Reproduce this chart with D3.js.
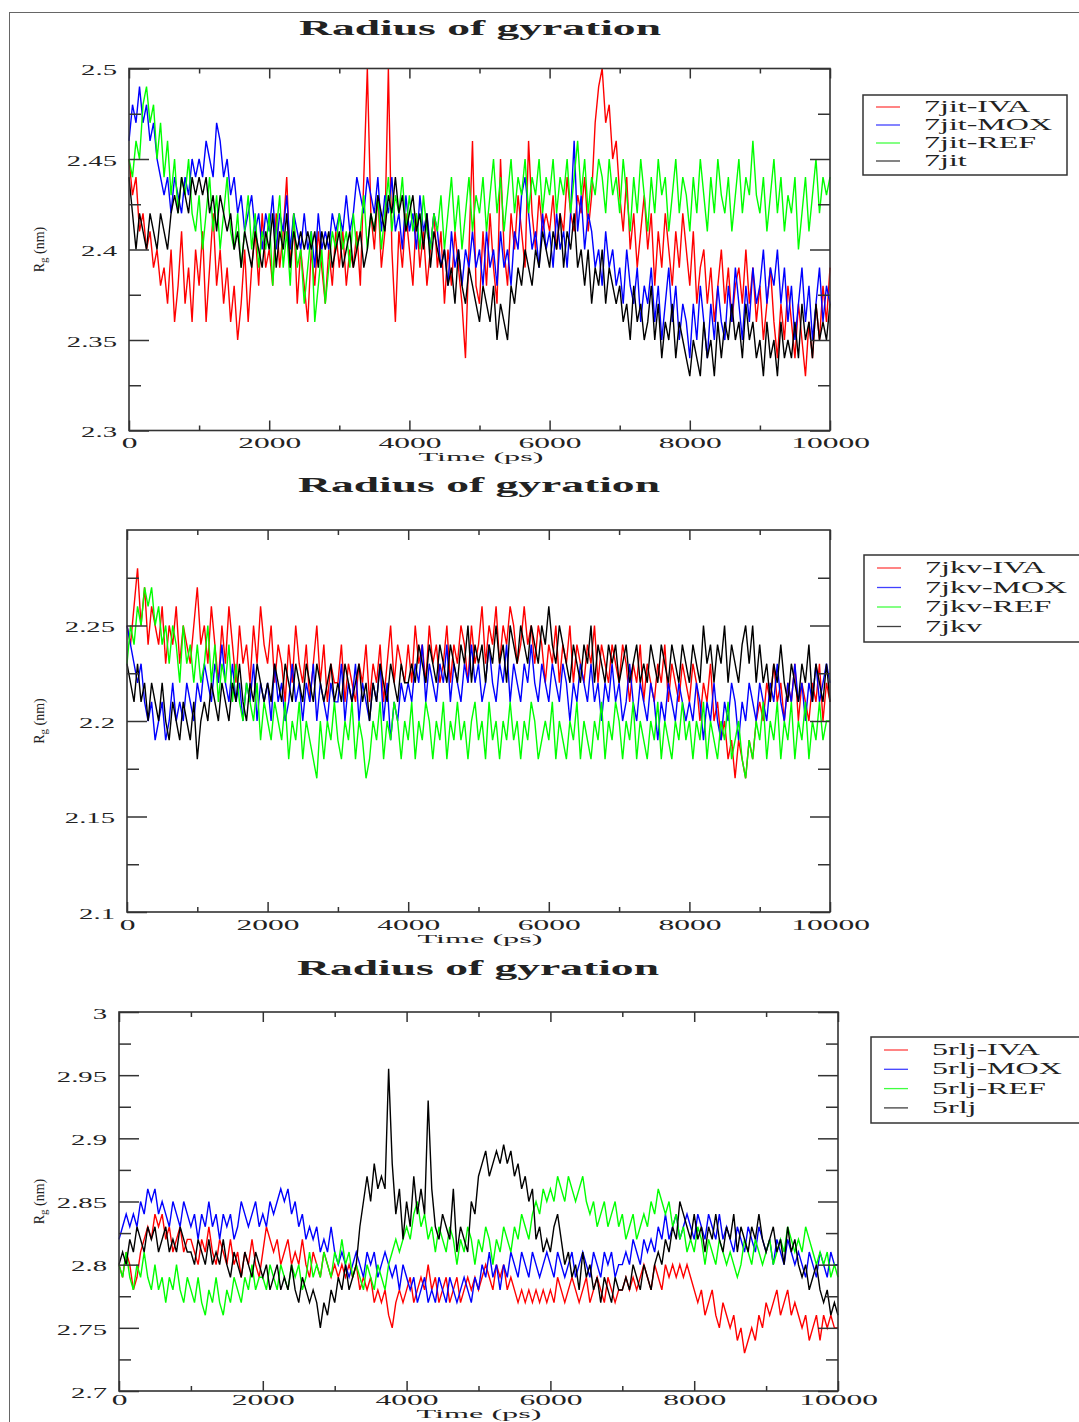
<!DOCTYPE html>
<html lang="en">
<head>
<meta charset="UTF-8">
<style>
    html, body { margin:0; padding:0; background:#fff; overflow:hidden; }
    svg { display:block; }
    text { font-family: "Liberation Serif", "DejaVu Serif", serif; fill:#222; }
</style>
<script src="https://d3js.org/d3.v7.min.js"></script>
</head>
<body>
<svg width="1079" height="1422"></svg>
<script>
// ---- data (one value every 50 ps) ----
var stepPs = 50;
var xTickValues = [0, 2000, 4000, 6000, 8000, 10000];
var xTickLabels = ["0", "2000", "4000", "6000", "8000", "10000"];
var xMinorTicks = [1000, 3000, 5000, 7000, 9000];

var jitNames = ["7jit-IVA", "7jit-MOX", "7jit-REF", "7jit"];
var jkvNames = ["7jkv-IVA", "7jkv-MOX", "7jkv-REF", "7jkv"];
var rljNames = ["5rlj-IVA", "5rlj-MOX", "5rlj-REF", "5rlj"];

var jitYTicks = [2.5, 2.45, 2.4, 2.35, 2.3];
var jitYLabels = ["2.5", "2.45", "2.4", "2.35", "2.3"];
var jkvYTicks = [2.25, 2.2, 2.15, 2.1];
var jkvYLabels = ["2.25", "2.2", "2.15", "2.1"];
var rljYTicks = [3, 2.95, 2.9, 2.85, 2.8, 2.75, 2.7];
var rljYLabels = ["3", "2.95", "2.9", "2.85", "2.8", "2.75", "2.7"];

var jitIVA = [
    2.45,2.43,2.44,2.41,2.42,2.40,2.41,2.39,2.40,2.38,2.39,2.37,2.40,2.36,2.38,2.41,2.37,2.39,2.36,2.40,
    2.38,2.41,2.36,2.39,2.42,2.38,2.40,2.37,2.39,2.36,2.38,2.35,2.37,2.40,2.36,2.39,2.41,2.38,2.42,2.39,
    2.40,2.38,2.42,2.39,2.41,2.44,2.39,2.42,2.37,2.40,2.38,2.36,2.40,2.38,2.41,2.39,2.37,2.40,2.38,2.41,
    2.39,2.41,2.38,2.40,2.39,2.41,2.38,2.44,2.50,2.42,2.40,2.43,2.39,2.41,2.50,2.40,2.36,2.41,2.39,2.42,
    2.40,2.38,2.42,2.39,2.41,2.38,2.40,2.42,2.39,2.41,2.37,2.40,2.38,2.41,2.39,2.37,2.34,2.40,2.46,2.38,
    2.37,2.41,2.38,2.42,2.39,2.37,2.45,2.40,2.38,2.42,2.40,2.43,2.41,2.39,2.46,2.42,2.40,2.43,2.41,2.42,
    2.41,2.43,2.40,2.42,2.41,2.44,2.42,2.41,2.43,2.42,2.44,2.41,2.43,2.47,2.49,2.50,2.47,2.48,2.45,2.46,
    2.43,2.41,2.44,2.40,2.42,2.39,2.41,2.43,2.40,2.42,2.38,2.41,2.39,2.42,2.40,2.38,2.41,2.39,2.42,2.40,
    2.38,2.41,2.37,2.39,2.40,2.37,2.39,2.36,2.38,2.40,2.37,2.39,2.36,2.38,2.39,2.37,2.40,2.37,2.39,2.36,
    2.38,2.35,2.37,2.39,2.36,2.34,2.37,2.35,2.38,2.36,2.34,2.37,2.35,2.33,2.36,2.34,2.37,2.35,2.38,2.36,
    2.39];
var jitMOX = [
    2.46,2.48,2.47,2.49,2.47,2.48,2.46,2.47,2.45,2.44,2.43,2.44,2.42,2.44,2.43,2.42,2.44,2.43,2.45,2.44,
    2.45,2.44,2.46,2.45,2.44,2.47,2.46,2.44,2.45,2.43,2.44,2.42,2.43,2.41,2.42,2.43,2.41,2.42,2.40,2.42,
    2.41,2.43,2.40,2.42,2.41,2.43,2.40,2.42,2.41,2.40,2.42,2.40,2.41,2.39,2.42,2.40,2.41,2.40,2.42,2.41,
    2.42,2.41,2.43,2.41,2.42,2.44,2.43,2.42,2.44,2.43,2.42,2.44,2.41,2.43,2.42,2.44,2.41,2.42,2.40,2.43,
    2.41,2.42,2.40,2.43,2.41,2.42,2.40,2.42,2.41,2.39,2.40,2.38,2.41,2.39,2.40,2.38,2.40,2.39,2.41,2.39,
    2.40,2.38,2.41,2.39,2.40,2.38,2.41,2.39,2.40,2.38,2.41,2.40,2.43,2.44,2.42,2.40,2.41,2.39,2.42,2.40,
    2.41,2.39,2.42,2.40,2.41,2.39,2.42,2.46,2.41,2.43,2.40,2.42,2.41,2.39,2.40,2.38,2.41,2.39,2.40,2.38,
    2.39,2.37,2.40,2.38,2.37,2.39,2.36,2.38,2.37,2.39,2.36,2.38,2.35,2.37,2.39,2.36,2.38,2.35,2.37,2.36,
    2.34,2.37,2.35,2.38,2.36,2.34,2.37,2.35,2.38,2.36,2.35,2.38,2.36,2.39,2.37,2.35,2.38,2.36,2.39,2.37,
    2.38,2.40,2.37,2.39,2.38,2.40,2.37,2.39,2.36,2.38,2.35,2.37,2.39,2.36,2.38,2.35,2.37,2.39,2.36,2.38,
    2.37];
var jitREF = [
    2.45,2.44,2.46,2.45,2.48,2.49,2.47,2.48,2.45,2.47,2.44,2.46,2.43,2.45,2.42,2.44,2.43,2.45,2.42,2.41,
    2.43,2.40,2.42,2.44,2.41,2.43,2.40,2.42,2.44,2.41,2.40,2.42,2.39,2.41,2.43,2.40,2.42,2.39,2.41,2.40,
    2.42,2.38,2.41,2.43,2.39,2.41,2.38,2.42,2.39,2.40,2.37,2.39,2.41,2.36,2.38,2.40,2.37,2.39,2.41,2.40,
    2.42,2.40,2.41,2.39,2.42,2.40,2.41,2.43,2.40,2.42,2.41,2.43,2.40,2.42,2.44,2.41,2.43,2.42,2.44,2.41,
    2.43,2.41,2.42,2.40,2.43,2.41,2.40,2.42,2.41,2.43,2.40,2.42,2.44,2.41,2.43,2.40,2.42,2.44,2.41,2.43,
    2.42,2.44,2.41,2.43,2.45,2.42,2.44,2.41,2.43,2.45,2.42,2.44,2.43,2.45,2.42,2.44,2.43,2.45,2.42,2.44,
    2.43,2.45,2.42,2.44,2.43,2.45,2.42,2.44,2.46,2.43,2.45,2.42,2.44,2.43,2.45,2.44,2.42,2.45,2.43,2.44,
    2.42,2.45,2.43,2.41,2.44,2.42,2.45,2.43,2.41,2.44,2.42,2.45,2.43,2.44,2.41,2.43,2.45,2.42,2.44,2.43,
    2.41,2.44,2.42,2.45,2.43,2.41,2.44,2.42,2.45,2.43,2.42,2.44,2.41,2.43,2.45,2.42,2.44,2.43,2.46,2.43,
    2.42,2.44,2.41,2.43,2.45,2.42,2.44,2.41,2.43,2.42,2.44,2.40,2.42,2.44,2.41,2.43,2.45,2.42,2.44,2.43,
    2.44];
var jitApo = [
    2.44,2.42,2.40,2.42,2.41,2.40,2.42,2.41,2.40,2.42,2.41,2.40,2.42,2.43,2.42,2.44,2.43,2.42,2.44,2.43,
    2.44,2.43,2.44,2.42,2.43,2.41,2.43,2.42,2.41,2.42,2.40,2.41,2.39,2.41,2.40,2.39,2.41,2.40,2.39,2.41,
    2.40,2.42,2.39,2.41,2.40,2.42,2.39,2.41,2.40,2.41,2.40,2.41,2.40,2.41,2.39,2.41,2.40,2.41,2.39,2.40,
    2.41,2.39,2.40,2.41,2.39,2.40,2.41,2.39,2.40,2.42,2.41,2.43,2.42,2.41,2.43,2.42,2.44,2.42,2.43,2.41,
    2.42,2.43,2.41,2.42,2.40,2.42,2.39,2.41,2.40,2.39,2.40,2.38,2.39,2.37,2.40,2.38,2.37,2.39,2.38,2.37,
    2.36,2.38,2.37,2.36,2.38,2.35,2.37,2.36,2.35,2.38,2.37,2.39,2.38,2.40,2.39,2.38,2.40,2.39,2.41,2.40,
    2.39,2.41,2.40,2.42,2.39,2.41,2.40,2.42,2.39,2.40,2.38,2.40,2.37,2.39,2.38,2.40,2.37,2.39,2.38,2.37,
    2.38,2.36,2.37,2.35,2.38,2.36,2.37,2.35,2.36,2.38,2.35,2.37,2.34,2.36,2.35,2.37,2.34,2.36,2.35,2.34,
    2.33,2.35,2.34,2.33,2.36,2.34,2.35,2.33,2.36,2.34,2.36,2.35,2.37,2.35,2.36,2.34,2.37,2.35,2.36,2.34,
    2.35,2.33,2.36,2.34,2.35,2.33,2.36,2.34,2.35,2.34,2.36,2.34,2.37,2.35,2.36,2.34,2.37,2.35,2.36,2.35,
    2.37];

var jkvIVA = [
    2.25,2.24,2.26,2.28,2.25,2.27,2.24,2.26,2.25,2.24,2.26,2.23,2.25,2.24,2.26,2.23,2.25,2.24,2.23,2.25,
    2.27,2.24,2.25,2.23,2.26,2.24,2.22,2.25,2.23,2.26,2.24,2.22,2.25,2.23,2.24,2.22,2.25,2.23,2.26,2.24,
    2.23,2.25,2.22,2.24,2.23,2.21,2.24,2.22,2.25,2.23,2.22,2.24,2.21,2.23,2.25,2.22,2.24,2.21,2.23,2.22,
    2.22,2.24,2.21,2.23,2.22,2.21,2.23,2.22,2.24,2.21,2.23,2.22,2.24,2.21,2.23,2.25,2.22,2.24,2.23,2.22,
    2.24,2.22,2.25,2.23,2.24,2.22,2.25,2.23,2.24,2.22,2.23,2.25,2.22,2.24,2.23,2.25,2.24,2.22,2.25,2.23,
    2.24,2.26,2.23,2.25,2.24,2.26,2.23,2.25,2.24,2.26,2.25,2.23,2.24,2.26,2.24,2.25,2.23,2.25,2.24,2.22,
    2.24,2.23,2.25,2.22,2.24,2.23,2.25,2.22,2.24,2.23,2.22,2.24,2.23,2.25,2.22,2.24,2.23,2.22,2.24,2.23,
    2.22,2.24,2.23,2.21,2.23,2.22,2.24,2.21,2.23,2.22,2.21,2.23,2.22,2.24,2.21,2.23,2.22,2.21,2.23,2.22,
    2.21,2.23,2.22,2.20,2.22,2.21,2.23,2.20,2.21,2.19,2.20,2.18,2.19,2.17,2.19,2.18,2.17,2.19,2.18,2.20,
    2.21,2.20,2.22,2.21,2.23,2.21,2.22,2.20,2.22,2.21,2.23,2.20,2.22,2.21,2.20,2.22,2.21,2.23,2.20,2.22,
    2.21];
var jkvMOX = [
    2.25,2.24,2.23,2.22,2.23,2.21,2.20,2.21,2.19,2.20,2.21,2.19,2.20,2.22,2.20,2.21,2.20,2.22,2.21,2.20,
    2.22,2.21,2.23,2.22,2.21,2.23,2.22,2.24,2.22,2.21,2.23,2.21,2.22,2.20,2.22,2.21,2.23,2.20,2.22,2.21,
    2.22,2.20,2.23,2.21,2.22,2.20,2.21,2.23,2.21,2.22,2.20,2.22,2.21,2.23,2.20,2.22,2.21,2.20,2.22,2.21,
    2.21,2.23,2.20,2.22,2.21,2.23,2.20,2.22,2.21,2.20,2.22,2.21,2.23,2.20,2.22,2.19,2.21,2.20,2.22,2.21,
    2.22,2.21,2.23,2.22,2.24,2.21,2.23,2.22,2.21,2.23,2.22,2.24,2.21,2.23,2.22,2.21,2.23,2.22,2.24,2.22,
    2.23,2.21,2.22,2.24,2.22,2.21,2.23,2.22,2.24,2.21,2.23,2.22,2.21,2.23,2.22,2.24,2.22,2.21,2.23,2.22,
    2.21,2.23,2.22,2.21,2.23,2.22,2.20,2.22,2.21,2.23,2.22,2.21,2.23,2.21,2.22,2.20,2.22,2.21,2.23,2.21,
    2.22,2.20,2.21,2.23,2.21,2.20,2.22,2.21,2.20,2.22,2.21,2.19,2.21,2.20,2.22,2.21,2.20,2.22,2.21,2.20,
    2.21,2.20,2.22,2.21,2.19,2.21,2.20,2.22,2.20,2.19,2.21,2.20,2.22,2.21,2.19,2.21,2.20,2.22,2.21,2.20,
    2.22,2.21,2.20,2.22,2.21,2.23,2.21,2.20,2.22,2.21,2.23,2.21,2.22,2.20,2.22,2.21,2.23,2.21,2.22,2.23,
    2.22];
var jkvREF = [
    2.23,2.25,2.24,2.26,2.25,2.27,2.26,2.27,2.25,2.26,2.24,2.25,2.23,2.25,2.24,2.22,2.25,2.23,2.24,2.22,
    2.24,2.22,2.23,2.25,2.22,2.24,2.21,2.23,2.22,2.24,2.21,2.23,2.21,2.20,2.22,2.21,2.20,2.22,2.19,2.21,
    2.20,2.19,2.21,2.20,2.19,2.21,2.18,2.20,2.19,2.21,2.18,2.20,2.19,2.18,2.17,2.20,2.18,2.20,2.19,2.21,
    2.19,2.18,2.20,2.19,2.21,2.18,2.20,2.19,2.17,2.18,2.20,2.19,2.21,2.18,2.20,2.19,2.21,2.20,2.18,2.20,
    2.19,2.21,2.18,2.20,2.19,2.21,2.20,2.18,2.20,2.19,2.21,2.18,2.20,2.19,2.21,2.19,2.20,2.18,2.20,2.21,
    2.19,2.20,2.18,2.21,2.19,2.20,2.18,2.20,2.19,2.21,2.19,2.20,2.18,2.20,2.19,2.21,2.20,2.18,2.19,2.20,
    2.19,2.21,2.18,2.20,2.19,2.18,2.20,2.19,2.21,2.18,2.20,2.19,2.18,2.20,2.19,2.21,2.18,2.20,2.19,2.21,
    2.20,2.18,2.20,2.19,2.21,2.18,2.20,2.19,2.18,2.20,2.19,2.21,2.18,2.20,2.19,2.18,2.20,2.19,2.21,2.19,
    2.20,2.18,2.20,2.19,2.21,2.18,2.20,2.19,2.18,2.20,2.19,2.21,2.18,2.19,2.20,2.18,2.17,2.19,2.18,2.20,
    2.19,2.21,2.18,2.20,2.19,2.21,2.18,2.20,2.19,2.21,2.18,2.20,2.19,2.21,2.18,2.20,2.19,2.21,2.19,2.20,
    2.20];
var jkvApo = [
    2.23,2.22,2.21,2.23,2.21,2.22,2.20,2.22,2.21,2.20,2.22,2.20,2.19,2.21,2.20,2.19,2.21,2.20,2.19,2.21,
    2.18,2.20,2.21,2.20,2.22,2.21,2.20,2.22,2.21,2.20,2.22,2.21,2.23,2.21,2.20,2.22,2.21,2.23,2.22,2.21,
    2.22,2.21,2.23,2.22,2.21,2.23,2.22,2.21,2.23,2.22,2.21,2.23,2.22,2.21,2.23,2.22,2.21,2.22,2.23,2.21,
    2.22,2.21,2.23,2.22,2.21,2.22,2.23,2.21,2.22,2.20,2.22,2.21,2.23,2.22,2.21,2.23,2.22,2.21,2.23,2.22,
    2.22,2.23,2.22,2.24,2.23,2.22,2.24,2.23,2.22,2.24,2.23,2.22,2.24,2.23,2.22,2.24,2.23,2.25,2.22,2.24,
    2.23,2.24,2.22,2.24,2.23,2.25,2.23,2.24,2.22,2.25,2.24,2.23,2.25,2.24,2.23,2.25,2.24,2.23,2.25,2.24,
    2.26,2.24,2.23,2.25,2.24,2.23,2.22,2.24,2.23,2.22,2.24,2.23,2.25,2.22,2.24,2.23,2.22,2.24,2.23,2.24,
    2.22,2.23,2.24,2.22,2.23,2.24,2.22,2.23,2.22,2.24,2.23,2.22,2.24,2.23,2.22,2.24,2.23,2.22,2.24,2.23,
    2.22,2.24,2.23,2.22,2.25,2.23,2.24,2.22,2.24,2.23,2.25,2.22,2.24,2.23,2.22,2.24,2.25,2.23,2.25,2.22,
    2.24,2.22,2.23,2.21,2.23,2.22,2.24,2.22,2.21,2.23,2.22,2.21,2.23,2.22,2.24,2.21,2.23,2.22,2.21,2.23,
    2.21];

var rljIVA = [
    2.80,2.79,2.81,2.80,2.78,2.79,2.81,2.82,2.83,2.82,2.84,2.83,2.84,2.82,2.83,2.81,2.82,2.83,2.81,2.82,
    2.82,2.81,2.80,2.82,2.81,2.83,2.81,2.80,2.82,2.81,2.80,2.82,2.80,2.81,2.79,2.81,2.80,2.82,2.80,2.79,
    2.81,2.83,2.82,2.81,2.82,2.80,2.81,2.82,2.80,2.81,2.80,2.82,2.80,2.79,2.81,2.80,2.79,2.81,2.80,2.79,
    2.80,2.79,2.80,2.79,2.80,2.79,2.80,2.78,2.79,2.78,2.79,2.77,2.78,2.77,2.78,2.76,2.75,2.77,2.78,2.77,
    2.78,2.79,2.77,2.78,2.79,2.78,2.80,2.78,2.79,2.77,2.78,2.79,2.77,2.78,2.79,2.77,2.78,2.79,2.78,2.79,
    2.78,2.79,2.80,2.79,2.78,2.80,2.79,2.80,2.78,2.79,2.78,2.77,2.78,2.77,2.78,2.77,2.78,2.77,2.78,2.77,
    2.78,2.77,2.79,2.78,2.77,2.78,2.79,2.78,2.77,2.78,2.79,2.77,2.78,2.79,2.78,2.77,2.79,2.78,2.77,2.78,
    2.78,2.79,2.78,2.79,2.78,2.79,2.80,2.79,2.78,2.80,2.79,2.78,2.80,2.79,2.80,2.79,2.80,2.79,2.80,2.79,
    2.78,2.77,2.78,2.76,2.77,2.78,2.76,2.75,2.77,2.76,2.75,2.76,2.74,2.75,2.73,2.74,2.75,2.74,2.76,2.75,
    2.77,2.76,2.77,2.78,2.76,2.77,2.78,2.76,2.77,2.76,2.75,2.76,2.74,2.75,2.76,2.74,2.76,2.75,2.76,2.75,
    2.75];
var rljMOX = [
    2.82,2.83,2.84,2.83,2.84,2.83,2.85,2.84,2.86,2.85,2.86,2.84,2.85,2.84,2.83,2.85,2.84,2.83,2.85,2.84,
    2.83,2.84,2.82,2.84,2.83,2.85,2.83,2.84,2.82,2.84,2.83,2.84,2.82,2.83,2.85,2.84,2.83,2.84,2.85,2.83,
    2.84,2.83,2.85,2.84,2.85,2.86,2.85,2.86,2.84,2.85,2.83,2.84,2.82,2.83,2.82,2.83,2.81,2.82,2.81,2.83,
    2.81,2.80,2.81,2.80,2.79,2.80,2.81,2.80,2.79,2.81,2.80,2.81,2.79,2.80,2.81,2.80,2.79,2.80,2.78,2.80,
    2.79,2.78,2.79,2.77,2.78,2.79,2.77,2.78,2.77,2.79,2.78,2.77,2.79,2.78,2.77,2.78,2.79,2.78,2.77,2.79,
    2.78,2.80,2.79,2.81,2.79,2.80,2.78,2.80,2.79,2.81,2.80,2.79,2.81,2.80,2.79,2.81,2.80,2.79,2.80,2.81,
    2.80,2.79,2.81,2.80,2.79,2.80,2.81,2.79,2.80,2.81,2.80,2.79,2.81,2.80,2.79,2.81,2.80,2.81,2.79,2.80,
    2.80,2.81,2.80,2.82,2.81,2.80,2.82,2.81,2.82,2.81,2.83,2.82,2.84,2.82,2.83,2.84,2.82,2.83,2.84,2.83,
    2.82,2.84,2.83,2.82,2.84,2.83,2.82,2.84,2.82,2.83,2.82,2.81,2.83,2.82,2.81,2.83,2.82,2.81,2.83,2.82,
    2.81,2.82,2.80,2.82,2.81,2.80,2.82,2.81,2.80,2.81,2.80,2.79,2.81,2.80,2.79,2.81,2.80,2.79,2.81,2.80,
    2.80];
var rljREF = [
    2.80,2.79,2.81,2.79,2.78,2.80,2.79,2.81,2.79,2.78,2.80,2.78,2.79,2.77,2.79,2.78,2.80,2.78,2.77,2.79,
    2.78,2.77,2.79,2.77,2.76,2.78,2.77,2.79,2.77,2.76,2.78,2.77,2.79,2.78,2.77,2.79,2.78,2.80,2.78,2.79,
    2.79,2.78,2.80,2.79,2.78,2.80,2.79,2.78,2.80,2.79,2.80,2.78,2.79,2.81,2.79,2.80,2.79,2.81,2.80,2.79,
    2.81,2.80,2.82,2.80,2.81,2.79,2.80,2.79,2.78,2.80,2.79,2.78,2.80,2.79,2.78,2.80,2.81,2.82,2.81,2.82,
    2.83,2.82,2.84,2.85,2.83,2.84,2.82,2.83,2.81,2.83,2.82,2.81,2.83,2.82,2.80,2.82,2.81,2.83,2.82,2.80,
    2.82,2.81,2.83,2.82,2.80,2.82,2.81,2.83,2.82,2.81,2.83,2.82,2.84,2.83,2.82,2.84,2.85,2.84,2.86,2.85,
    2.86,2.85,2.87,2.86,2.85,2.87,2.86,2.85,2.86,2.87,2.85,2.84,2.85,2.83,2.84,2.85,2.83,2.84,2.85,2.83,
    2.84,2.82,2.83,2.84,2.82,2.83,2.84,2.83,2.85,2.84,2.86,2.85,2.84,2.85,2.83,2.84,2.82,2.83,2.81,2.82,
    2.81,2.83,2.82,2.80,2.82,2.81,2.80,2.82,2.81,2.80,2.81,2.80,2.79,2.80,2.82,2.81,2.80,2.82,2.81,2.80,
    2.81,2.82,2.80,2.81,2.82,2.81,2.83,2.82,2.81,2.82,2.81,2.83,2.82,2.81,2.80,2.81,2.80,2.81,2.79,2.80,
    2.79];
var rljApo = [
    2.80,2.81,2.80,2.82,2.81,2.83,2.82,2.81,2.83,2.82,2.83,2.81,2.82,2.83,2.81,2.82,2.81,2.83,2.82,2.81,
    2.81,2.80,2.82,2.81,2.80,2.82,2.80,2.81,2.80,2.82,2.80,2.79,2.81,2.80,2.79,2.81,2.80,2.79,2.81,2.80,
    2.79,2.80,2.78,2.79,2.80,2.78,2.79,2.78,2.80,2.78,2.77,2.79,2.78,2.77,2.78,2.77,2.75,2.77,2.76,2.78,
    2.77,2.79,2.78,2.80,2.78,2.79,2.80,2.83,2.85,2.87,2.85,2.88,2.86,2.87,2.86,2.955,2.88,2.84,2.86,2.82,
    2.85,2.83,2.87,2.84,2.86,2.84,2.93,2.86,2.83,2.82,2.84,2.83,2.82,2.86,2.81,2.83,2.82,2.81,2.85,2.84,
    2.87,2.88,2.89,2.87,2.88,2.89,2.88,2.895,2.88,2.89,2.87,2.88,2.86,2.87,2.85,2.86,2.82,2.83,2.81,2.82,
    2.81,2.83,2.84,2.82,2.80,2.81,2.79,2.80,2.78,2.81,2.79,2.80,2.78,2.79,2.77,2.79,2.78,2.77,2.79,2.78,
    2.78,2.79,2.78,2.80,2.79,2.78,2.80,2.79,2.78,2.80,2.81,2.80,2.82,2.81,2.83,2.82,2.85,2.84,2.83,2.82,
    2.84,2.82,2.83,2.81,2.83,2.82,2.84,2.82,2.81,2.83,2.82,2.84,2.81,2.83,2.82,2.81,2.83,2.82,2.84,2.82,
    2.81,2.82,2.83,2.81,2.82,2.80,2.83,2.81,2.82,2.80,2.79,2.80,2.78,2.79,2.80,2.78,2.77,2.78,2.76,2.77,
    2.76];

var seriesColors = ["#ff0000", "#0000ff", "#00ff00", "#000000"];

// ---- layout ----
var svg = d3.select("svg");

// thin frame round the whole figure
svg.append("rect")
    .attr("x", 9.5).attr("y", 12.5)
    .attr("width", 1100).attr("height", 1450)
    .attr("fill", "none").attr("stroke", "#666").attr("stroke-width", 1);

// widens text the way the source picture is stretched sideways
function stretch(sel, k, anchor) {
    sel.each(function() {
        var t = d3.select(this);
        var w = this.getComputedTextLength();
        var target = k > 10 ? k : w * k;   // k > 10 means a fixed width
        var x0 = +t.attr("x") || 0;
        var shift = anchor === "middle" ? -target / 2 : (anchor === "end" ? -target : 0);
        t.attr("text-anchor", "start")
            .attr("textLength", target)
            .attr("lengthAdjust", "spacingAndGlyphs")
            .attr("x", x0 + shift);
    });
}

var panels = [
    {names: jitNames, series: [jitIVA, jitMOX, jitREF, jitApo], yDomain: [2.3, 2.5],
        yTicks: jitYTicks, yLabels: jitYLabels, yMinor: 0.025,
        left: 129, right: 830, top: 68.5, bottom: 430.5, titleY: 35, titleX: 480,
        xPad: 8, xTitleY: 461, xTitleSize: 13,
        legend: {x: 863, y: 95, w: 204, h: 80, row0: 107, step: 18}},
    {names: jkvNames, series: [jkvIVA, jkvMOX, jkvREF, jkvApo], yDomain: [2.1, 2.3],
        yTicks: jkvYTicks, yLabels: jkvYLabels, yMinor: 0.025,
        left: 127, right: 830, top: 530, bottom: 912, titleY: 492, titleX: 479,
        xPad: 8, xTitleY: 943, xTitleSize: 13,
        legend: {x: 864, y: 555, w: 230, h: 87, row0: 568, step: 19.5}},
    {names: rljNames, series: [rljIVA, rljMOX, rljREF, rljApo], yDomain: [2.7, 3.0],
        yTicks: rljYTicks, yLabels: rljYLabels, yMinor: 0.025,
        left: 119, right: 838, top: 1012, bottom: 1391, titleY: 975, titleX: 478,
        xPad: 4, xTitleY: 1418, xTitleSize: 12,
        legend: {x: 871, y: 1037, w: 230, h: 86, row0: 1050, step: 19.3}}
];

panels.forEach(function(p) {
    var x = d3.scaleLinear().domain([0, 10000]).range([p.left, p.right]);
    var y = d3.scaleLinear().domain(p.yDomain).range([p.bottom, p.top]);
    var g = svg.append("g");

    // title
    var title = g.append("text")
        .attr("x", p.titleX)
        .attr("y", p.titleY)
        .style("font-size", "21px")
        .style("font-weight", "bold")
        .text("Radius of gyration");
    stretch(title, 362, "middle");

    // series
    var line = d3.line()
        .x(function(d, i) { return x(i * stepPs); })
        .y(function(d) { return y(d); });
    p.series.forEach(function(s, i) {
        g.append("path")
            .datum(s)
            .attr("fill", "none")
            .attr("stroke", seriesColors[i])
            .attr("stroke-width", 1.4)
            .attr("d", line);
    });

    var yMinorVals = d3.range(p.yDomain[0] + p.yMinor, p.yDomain[1], p.yMinor * 2);

    // bottom axis with labels
    var xb = g.append("g")
        .attr("transform", "translate(0," + p.bottom + ")")
        .call(d3.axisBottom(x).tickValues(xTickValues).tickSize(-10).tickSizeOuter(0)
            .tickPadding(p.xPad).tickFormat(function(d, i) { return xTickLabels[i]; }));
    xb.selectAll("text").style("font-size", "14px").attr("fill", "#222");
    stretch(xb.selectAll("text"), 2.25, "middle");
    g.append("g")
        .attr("transform", "translate(0," + p.bottom + ")")
        .call(d3.axisBottom(x).tickValues(xMinorTicks).tickSize(-5).tickSizeOuter(0).tickFormat(""));

    // top axis
    g.append("g")
        .attr("transform", "translate(0," + p.top + ")")
        .call(d3.axisTop(x).tickValues(xTickValues).tickSize(-10).tickSizeOuter(0).tickFormat(""));
    g.append("g")
        .attr("transform", "translate(0," + p.top + ")")
        .call(d3.axisTop(x).tickValues(xMinorTicks).tickSize(-5).tickSizeOuter(0).tickFormat(""));

    // left axis with labels
    var yl = g.append("g")
        .attr("transform", "translate(" + p.left + ",0)")
        .call(d3.axisLeft(y).tickValues(p.yTicks).tickSize(-20).tickSizeOuter(0)
            .tickPadding(12).tickFormat(function(d, i) { return p.yLabels[i]; }));
    yl.selectAll("text").style("font-size", "14px").attr("fill", "#222").attr("dy", "0.45em");
    stretch(yl.selectAll("text"), 2.05, "end");
    g.append("g")
        .attr("transform", "translate(" + p.left + ",0)")
        .call(d3.axisLeft(y).tickValues(yMinorVals).tickSize(-12).tickSizeOuter(0).tickFormat(""));

    // right axis
    g.append("g")
        .attr("transform", "translate(" + p.right + ",0)")
        .call(d3.axisRight(y).tickValues(p.yTicks).tickSize(-20).tickSizeOuter(0).tickFormat(""));
    g.append("g")
        .attr("transform", "translate(" + p.right + ",0)")
        .call(d3.axisRight(y).tickValues(yMinorVals).tickSize(-12).tickSizeOuter(0).tickFormat(""));

    g.selectAll(".domain").remove();
    g.selectAll(".tick line").attr("stroke", "#333").attr("stroke-width", 1.5);

    // frame
    g.append("rect")
        .attr("x", p.left).attr("y", p.top)
        .attr("width", p.right - p.left).attr("height", p.bottom - p.top)
        .attr("fill", "none").attr("stroke", "#333").attr("stroke-width", 1.6);

    // axis titles
    var xt = g.append("text")
        .attr("x", p.titleX + 1)
        .attr("y", p.xTitleY)
        .style("font-size", p.xTitleSize + "px")
        .text("Time (ps)");
    stretch(xt, 125, "middle");

    var mid = (p.top + p.bottom) / 2;
    var yt = g.append("text")
        .attr("transform", "translate(44," + mid + ") rotate(-90)")
        .style("font-size", "14px");
    yt.append("tspan").text("R");
    yt.append("tspan").attr("dy", 3).style("font-size", "11px").text("g");
    yt.append("tspan").attr("dy", -3).text(" (nm)");
    var ytw = yt.node().getComputedTextLength();
    yt.attr("x", -ytw / 2);

    // legend
    var L = p.legend;
    var lg = g.append("g");
    lg.append("rect")
        .attr("x", L.x).attr("y", L.y).attr("width", L.w).attr("height", L.h)
        .attr("fill", "#fff").attr("stroke", "#333").attr("stroke-width", 1.5);
    p.names.forEach(function(name, i) {
        var ry = L.row0 + i * L.step;
        lg.append("line")
            .attr("x1", L.x + 13).attr("x2", L.x + 37)
            .attr("y1", ry).attr("y2", ry)
            .attr("stroke", seriesColors[i]).attr("stroke-width", 1.3)
            .attr("stroke-opacity", 0.75);
        var t = lg.append("text")
            .attr("x", L.x + 61).attr("y", ry + 5)
            .style("font-size", "16px")
            .text(name);
        stretch(t, 2.0, "start");
    });
});
</script>
</body>
